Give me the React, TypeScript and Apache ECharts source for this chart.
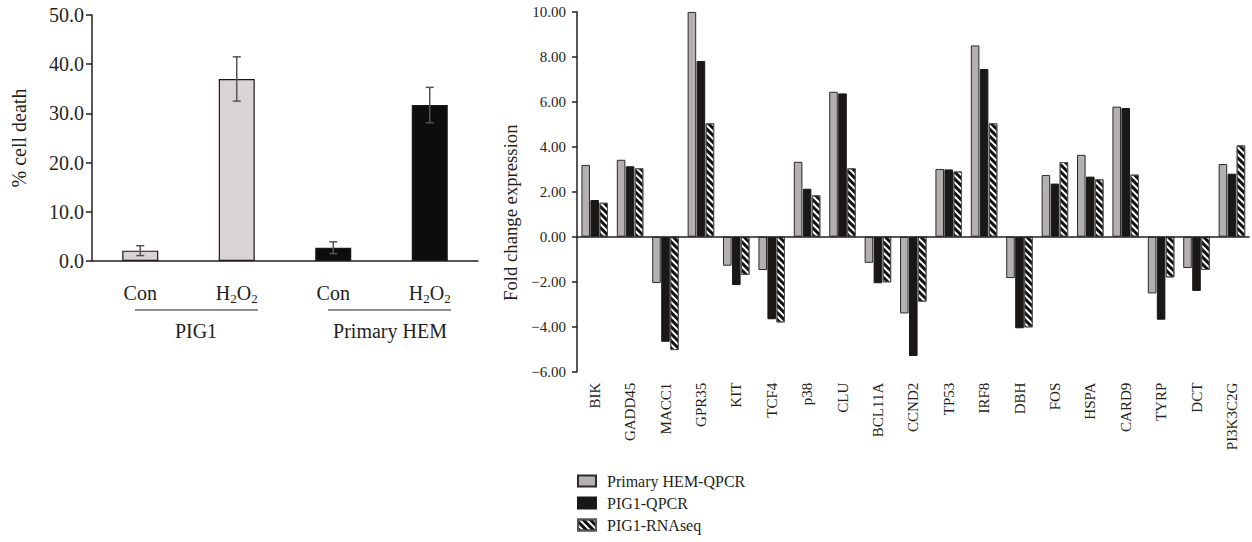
import React, { useEffect, useRef } from 'react';
import * as echarts from 'echarts';

const FONT = "'Liberation Serif', 'Times New Roman', serif";
const INK = '#231f20';

// Left chart: % cell death
const leftCategories = ['Con', 'H2O2', 'Con', 'H2O2'];
const leftValues = [2.1, 37.0, 2.7, 31.7];
const leftErrors = [1.0, 4.5, 1.2, 3.6];
const leftGroups = ['PIG1', 'Primary HEM'];
const leftTicks = [0, 50, 10];

// Right chart: fold change expression
const genes = ['BIK', 'GADD45', 'MACC1', 'GPR35', 'KIT', 'TCF4', 'p38', 'CLU', 'BCL11A', 'CCND2', 'TP53', 'IRF8', 'DBH', 'FOS', 'HSPA', 'CARD9', 'TYRP', 'DCT', 'PI3K3C2G'];
const seriesNames = ['Primary HEM-QPCR', 'PIG1-QPCR', 'PIG1-RNAseq'];
const hemQpcr = [3.19, 3.42, -2.06, 9.99, -1.29, -1.48, 3.33, 6.44, -1.16, -3.41, 3.01, 8.5, -1.84, 2.74, 3.64, 5.78, -2.52, -1.39, 3.23];
const pig1Qpcr = [1.63, 3.13, -4.67, 7.81, -2.15, -3.67, 2.13, 6.37, -2.07, -5.3, 2.99, 7.45, -4.07, 2.36, 2.67, 5.72, -3.69, -2.41, 2.8];
const pig1Rnaseq = [1.51, 3.04, -5.04, 5.04, -1.7, -3.81, 1.84, 3.04, -2.03, -2.89, 2.9, 5.04, -4.03, 3.32, 2.55, 2.76, -1.81, -1.48, 4.06];
const rightTicks = [-6, 10, 2];

export default function App() {
  const ref = useRef<HTMLDivElement>(null);
  useEffect(() => {
    document.body.style.margin = '0';
    const chart = echarts.init(ref.current!, null, { renderer: 'svg' });
    const option: any = {
      animation: false,
      backgroundColor: '#fff',
      textStyle: { fontFamily: FONT, color: INK },
      grid: [
        { left: 92, top: 15, width: 386, height: 246 },
        { left: 577, top: 11.7, width: 672.6, height: 360 },
      ],
      legend: {
        data: seriesNames,
        orient: 'vertical',
        left: 577,
        top: 473,
        height: 69,
        padding: 0,
        itemWidth: 18,
        itemHeight: 11,
        itemGap: 6,
        icon: 'rect',
        textStyle: { fontFamily: FONT, fontSize: 16, color: INK, padding: [0, 0, 0, 6] },
      },
      xAxis: [
        {
          type: 'category',
          gridIndex: 0,
          data: leftCategories,
          axisLine: { lineStyle: { color: INK, width: 1.5 } },
          axisTick: { show: false },
          axisLabel: {
            margin: 20,
            interval: 0,
            formatter: (v: string) => (v === 'H2O2' ? '{n|H}{s|2}{n|O}{s|2}' : '{n|' + v + '}'),
            rich: {
              n: { fontFamily: FONT, fontSize: 20, color: INK, lineHeight: 24, verticalAlign: 'middle' },
              s: { fontFamily: FONT, fontSize: 13, color: INK, lineHeight: 12, verticalAlign: 'bottom' },
            },
          },
        },
        {
          type: 'category',
          gridIndex: 1,
          data: genes,
          axisLine: { show: false, onZero: false },
          axisTick: { show: false },
          axisLabel: { rotate: 90, interval: 0, margin: 11, fontFamily: FONT, fontSize: 15, color: INK },
        },
      ],
      yAxis: [
        {
          type: 'value',
          gridIndex: 0,
          min: leftTicks[0],
          max: leftTicks[1],
          interval: leftTicks[2],
          axisLine: { show: true, lineStyle: { color: INK, width: 1.5 } },
          axisTick: { show: true, length: 6, lineStyle: { color: INK, width: 1.5 } },
          splitLine: { show: false },
          axisLabel: { fontFamily: FONT, fontSize: 20, color: INK, margin: 8, formatter: (v: number) => v.toFixed(1) },
          name: '% cell death',
          nameLocation: 'middle',
          nameGap: 63,
          nameRotate: 90,
          nameTextStyle: { fontFamily: FONT, fontSize: 20, color: INK },
        },
        {
          type: 'value',
          gridIndex: 1,
          min: rightTicks[0],
          max: rightTicks[1],
          interval: rightTicks[2],
          axisLine: { show: true, lineStyle: { color: INK, width: 1.5 } },
          axisTick: { show: true, length: 5, lineStyle: { color: INK, width: 1.5 } },
          splitLine: { show: false },
          axisLabel: {
            fontFamily: FONT,
            fontSize: 15,
            color: INK,
            margin: 11,
            formatter: (v: number) => (v < 0 ? '\u2212' : '') + Math.abs(v).toFixed(2),
          },
          name: 'Fold change expression',
          nameLocation: 'middle',
          nameGap: 51,
          nameRotate: 90,
          nameTextStyle: { fontFamily: FONT, fontSize: 18.7, color: INK, padding: [0, 42, 0, 0] },
        },
      ],
      series: [
        {
          type: 'bar',
          xAxisIndex: 0,
          yAxisIndex: 0,
          barWidth: 36,
          data: leftValues.map((v, i) => ({
            value: v,
            itemStyle: { color: i < 2 ? '#d9d4d4' : '#0e0c0c' },
          })),
          itemStyle: { borderColor: '#1a1a1a', borderWidth: 1.2 },
        },
        {
          type: 'custom',
          xAxisIndex: 0,
          yAxisIndex: 0,
          data: leftValues.map((v, i) => [i, v - leftErrors[i], v + leftErrors[i]]),
          encode: { x: 0, y: [1, 2] },
          renderItem: (params: any, api: any) => {
            const x = api.value(0);
            const lo = api.coord([x, api.value(1)]);
            const hi = api.coord([x, api.value(2)]);
            const cap = 4;
            const style = { stroke: '#555', lineWidth: 1.5 };
            return {
              type: 'group',
              children: [
                { type: 'line', shape: { x1: lo[0], y1: lo[1], x2: hi[0], y2: hi[1] }, style },
                { type: 'line', shape: { x1: lo[0] - cap, y1: lo[1], x2: lo[0] + cap, y2: lo[1] }, style },
                { type: 'line', shape: { x1: hi[0] - cap, y1: hi[1], x2: hi[0] + cap, y2: hi[1] }, style },
              ],
            };
          },
          z: 5,
        },
        {
          name: seriesNames[0],
          type: 'bar',
          xAxisIndex: 1,
          yAxisIndex: 1,
          barGap: '5%',
          barCategoryGap: '25%',
          data: hemQpcr,
          itemStyle: { color: '#b5b0b0', borderColor: '#2a2a2a', borderWidth: 1 },
          markLine: {
            silent: true,
            symbol: 'none',
            label: { show: false },
            lineStyle: { color: INK, width: 1.5, type: 'solid' },
            data: [{ yAxis: 0 }],
            z: 10,
          },
        },
        {
          name: seriesNames[1],
          type: 'bar',
          xAxisIndex: 1,
          yAxisIndex: 1,
          barGap: '5%',
          barCategoryGap: '25%',
          data: pig1Qpcr,
          itemStyle: { color: '#1a1816', borderColor: '#1a1816', borderWidth: 1 },
        },
        {
          name: seriesNames[2],
          type: 'bar',
          xAxisIndex: 1,
          yAxisIndex: 1,
          barGap: '5%',
          barCategoryGap: '25%',
          data: pig1Rnaseq,
          itemStyle: {
            color: '#ffffff',
            borderColor: '#555',
            borderWidth: 1,
            decal: {
              symbol: 'rect',
              symbolSize: 1,
              dashArrayX: [1, 0],
              dashArrayY: [2.5, 2],
              rotation: Math.PI / 4,
              color: '#111',
            },
          },
        },
      ],
      graphic: [
        { type: 'line', shape: { x1: 135, y1: 310, x2: 258, y2: 310 }, style: { stroke: INK, lineWidth: 1.2 } },
        { type: 'line', shape: { x1: 328, y1: 310, x2: 451, y2: 310 }, style: { stroke: INK, lineWidth: 1.2 } },
        {
          type: 'text',
          x: 196,
          y: 331,
          style: { text: leftGroups[0], fontFamily: FONT, fontSize: 20, fill: INK, align: 'center', verticalAlign: 'middle' },
        },
        {
          type: 'text',
          x: 390,
          y: 331,
          style: { text: leftGroups[1], fontFamily: FONT, fontSize: 20, fill: INK, align: 'center', verticalAlign: 'middle' },
        },
      ],
    };
    chart.setOption(option);
    return () => chart.dispose();
  }, []);
  return <div ref={ref} style={{ position: 'absolute', left: 0, top: 0, width: 1252, height: 542 }} />;
}
